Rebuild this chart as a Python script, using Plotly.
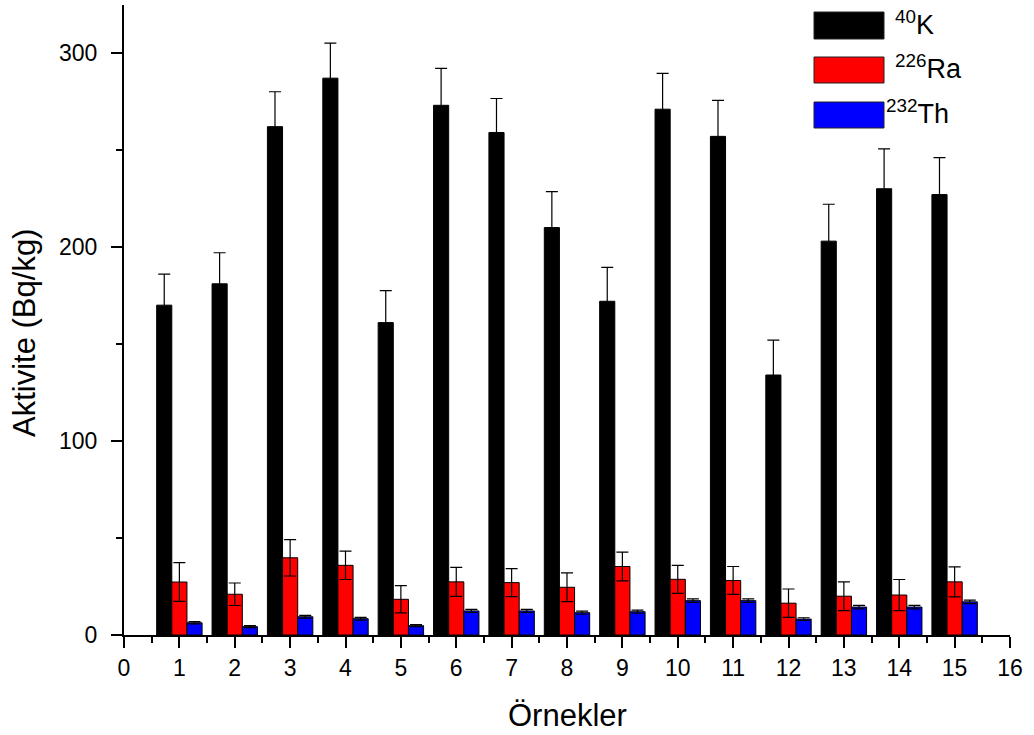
import plotly.graph_objects as go

samples = list(range(1, 16))
k40 = [170, 181, 262, 287, 161, 273, 259, 210, 172, 271, 257, 134, 203, 230, 227]
k40_err = [16, 16, 18, 18, 16.5, 19, 17.5, 18.5, 17.5, 18.5, 18.5, 18, 19, 20.5, 19]
ra226 = [27.3, 21, 39.8, 35.9, 18.4, 27.4, 27, 24.6, 35.3, 28.7, 28.1, 16.4, 20, 20.6, 27.4]
ra226_err = [10, 5.8, 9.4, 7.3, 7, 7.5, 7.2, 7.4, 7.4, 7.2, 7.2, 7.3, 7.4, 8, 7.7]
th232 = [6.3, 4.3, 9.4, 8.4, 4.8, 12.4, 12.4, 11.5, 12, 17.7, 17.7, 8.2, 14.4, 14.4, 17.1]
th232_err = [0.6, 0.5, 0.7, 0.7, 0.5, 0.8, 0.8, 0.8, 0.8, 0.9, 0.9, 0.7, 0.9, 0.9, 0.9]

series = [
    ("<sup>40</sup>K", k40, k40_err, "#000000"),
    ("<sup>226</sup>Ra", ra226, ra226_err, "#ff0000"),
    ("<sup>232</sup>Th", th232, th232_err, "#0000ff"),
]

FONT = "Liberation Sans, Arial, sans-serif"

fig = go.Figure()
for name, vals, errs, col in series:
    fig.add_trace(go.Bar(
        x=samples, y=vals, name=name,
        marker=dict(color=col, line=dict(color="#000000", width=1)),
        error_y=dict(type="data", array=errs, symmetric=True,
                     color="#000000", thickness=1.2, width=6),
        showlegend=False,
    ))

# plot area geometry in pixels (for the hand-drawn legend and titles)
L, R, T, B = 124, 24, 5, 100
W, H = 1034, 735
pw, ph = W - L - R, H - T - B

def px(x):
    return (x - L) / pw

def py(y):
    return (H - B - y) / ph

shapes = []
annotations = []
legend_rows = [(12, 39), (57, 83), (102, 128)]
text_x = [893, 893, 884]
for (name, vals, errs, col), (y0, y1), tx in zip(series, legend_rows, text_x):
    shapes.append(dict(type="rect", xref="paper", yref="paper",
                       x0=px(814), x1=px(884), y0=py(y1), y1=py(y0),
                       fillcolor=col, line=dict(color="#222222", width=1)))
    annotations.append(dict(xref="paper", yref="paper", x=px(tx), y=py((y0 + y1) / 2 - 3),
                            text=name, showarrow=False, xanchor="left", yanchor="middle",
                            font=dict(family=FONT, size=27, color="#000000")))

# axis titles
annotations.append(dict(xref="paper", yref="paper", x=0.5, y=py(715),
                        text="Örnekler", showarrow=False, xanchor="center", yanchor="middle",
                        font=dict(family=FONT, size=31, color="#000000")))
annotations.append(dict(xref="paper", yref="paper", x=px(25), y=py(333),
                        text="Aktivite (Bq/kg)", showarrow=False, textangle=-90,
                        xanchor="center", yanchor="middle",
                        font=dict(family=FONT, size=31, color="#000000")))

fig.update_layout(
    width=W, height=H,
    margin=dict(l=L, r=R, t=T, b=B),
    plot_bgcolor="white", paper_bgcolor="white",
    barmode="group", bargap=0.18, bargroupgap=0,
    font=dict(family=FONT, color="#000000", size=23),
    shapes=shapes, annotations=annotations,
    xaxis=dict(
        range=[0, 16], tickmode="linear", tick0=0, dtick=1,
        showline=True, linecolor="#000000", linewidth=2,
        ticks="outside", ticklen=11, tickwidth=2, tickcolor="#000000",
        minor=dict(ticks="outside", dtick=0.5, tick0=0, ticklen=6, tickwidth=2, tickcolor="#000000"),
        showgrid=False, zeroline=False,
        tickfont=dict(size=23),
    ),
    yaxis=dict(
        range=[0, 324.7], tickmode="linear", tick0=0, dtick=100,
        showline=True, linecolor="#000000", linewidth=2,
        ticks="outside", ticklen=11, tickwidth=2, tickcolor="#000000",
        minor=dict(ticks="outside", dtick=50, tick0=0, ticklen=6, tickwidth=2, tickcolor="#000000"),
        showgrid=False, zeroline=False,
        ticklabelstandoff=9,
        tickfont=dict(size=23),
    ),
)

fig.write_html("out.html")
